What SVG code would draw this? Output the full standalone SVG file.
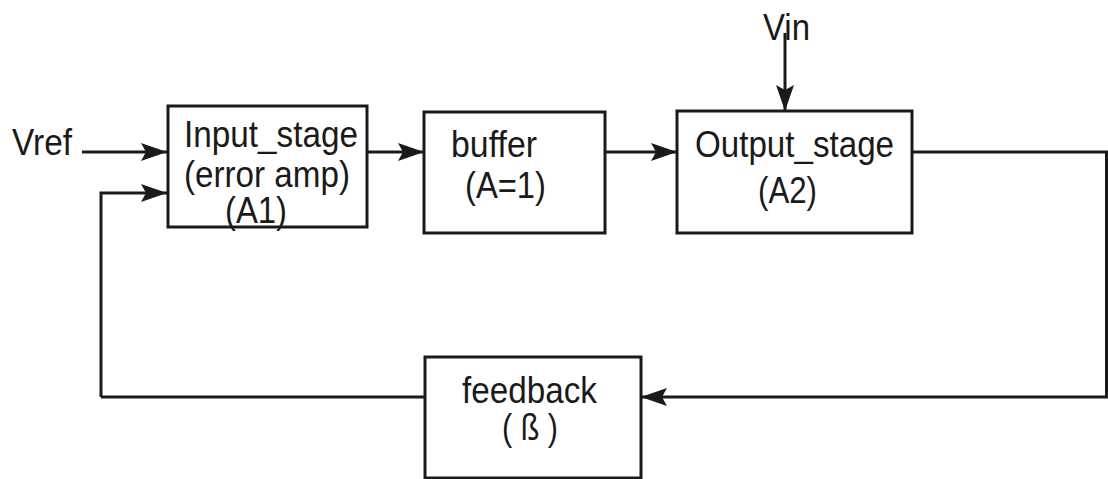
<svg xmlns="http://www.w3.org/2000/svg" width="1108" height="479" viewBox="0 0 1108 479">
<defs>
<style>
.box{fill:#fff;stroke:#1a1a1a;stroke-width:3}
.lbl{font-family:"Liberation Sans",Arial,sans-serif;font-size:36px;fill:#1a1a1a}
.wire{fill:none;stroke:#1a1a1a;stroke-width:3}
</style>
<marker id="ah" markerUnits="userSpaceOnUse" markerWidth="28" markerHeight="20" refX="26" refY="9" orient="auto">
<path d="M0,0 L26,9 L0,18 L5,9 Z" fill="#1a1a1a"/>
</marker>
</defs>
<rect width="1108" height="479" fill="#fff"/>
<g id="connectors">
<path class="wire" d="M82,152 H167" marker-end="url(#ah)"/>
<path class="wire" d="M101,397 V193 H167" marker-end="url(#ah)"/>
<path class="wire" d="M367,152 H424" marker-end="url(#ah)"/>
<path class="wire" d="M605,152 H677" marker-end="url(#ah)"/>
<path class="wire" d="M785,33 V111" marker-end="url(#ah)"/>
<path class="wire" d="M912,152 H1106.5 V397 H641" marker-end="url(#ah)"/>
<path class="wire" d="M425,397 H101"/>
</g>
<g id="vref">
<text class="lbl" x="12" y="155" textLength="60" lengthAdjust="spacingAndGlyphs">Vref</text>
</g>
<g id="vin">
<text class="lbl" x="763" y="40" textLength="47" lengthAdjust="spacingAndGlyphs">Vin</text>
</g>
<g id="input_stage">
<rect class="box" x="168" y="106" width="199" height="121"/>
<text class="lbl" x="184" y="147" textLength="174" lengthAdjust="spacingAndGlyphs">Input_stage</text>
<text class="lbl" x="184" y="187" textLength="166" lengthAdjust="spacingAndGlyphs">(error amp)</text>
<text class="lbl" x="225" y="223" textLength="62" lengthAdjust="spacingAndGlyphs">(A1)</text>
</g>
<g id="buffer">
<rect class="box" x="424" y="112" width="181" height="121"/>
<text class="lbl" x="451" y="157" textLength="86" lengthAdjust="spacingAndGlyphs">buffer</text>
<text class="lbl" x="465" y="198" textLength="81" lengthAdjust="spacingAndGlyphs">(A=1)</text>
</g>
<g id="output_stage">
<rect class="box" x="677" y="111" width="235" height="122"/>
<text class="lbl" x="695" y="157" textLength="199" lengthAdjust="spacingAndGlyphs">Output_stage</text>
<text class="lbl" x="758" y="203" textLength="59" lengthAdjust="spacingAndGlyphs">(A2)</text>
</g>
<g id="feedback">
<rect class="box" x="425" y="357" width="216" height="121"/>
<text class="lbl" x="462" y="403" textLength="135" lengthAdjust="spacingAndGlyphs">feedback</text>
<text class="lbl" x="502" y="440" textLength="56" lengthAdjust="spacingAndGlyphs">( ß )</text>
</g>
</svg>
